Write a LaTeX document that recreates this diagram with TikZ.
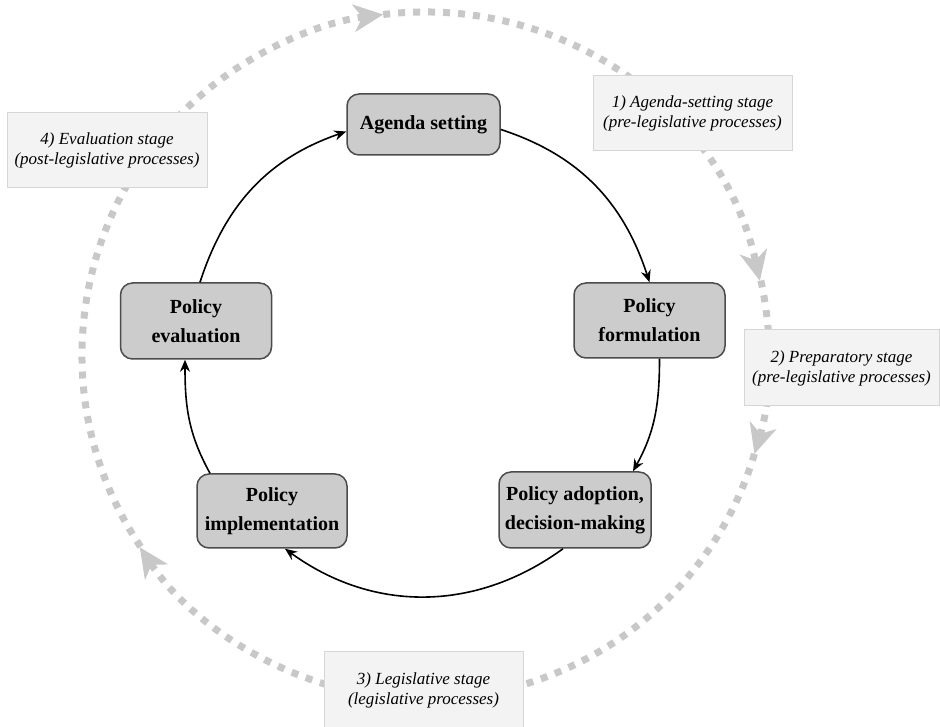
\documentclass[tikz,border=0pt]{standalone}
\usepackage{fontspec}
\setmainfont{Liberation Serif}
\usetikzlibrary{arrows.meta}

\definecolor{stagefill}{RGB}{204,204,204}
\definecolor{stageline}{RGB}{75,75,75}
\definecolor{notefill}{RGB}{243,243,243}
\definecolor{noteline}{RGB}{214,214,214}
\definecolor{loopgray}{RGB}{200,200,200}

\begin{document}
\begin{tikzpicture}[x=1pt,y=1pt,
  stage/.style={draw=stageline,fill=stagefill,line width=1.5pt,rounded corners=12pt,minimum width=151pt,minimum height=75pt,align=center,inner sep=2pt,font=\fontsize{20}{29}\selectfont\bfseries},
  note/.style={draw=noteline,fill=notefill,line width=1pt,minimum width=199pt,minimum height=75pt,align=center,inner sep=2pt,font=\fontsize{17}{20}\selectfont\itshape},
  flow/.style={-{Stealth[length=12pt,width=10pt]},line width=1.6pt},
  loop/.style={draw=loopgray,line width=7pt,dash pattern=on 7pt off 8pt,-{Stealth[length=30pt,width=28pt,inset=9pt,line width=1pt]}}]
\useasboundingbox (0,0) rectangle (940,727);

%Centre of both cycles
\coordinate (hub) at (425,372);

%Arcs: outer dotted loop
\draw[loop] (hub) ++(214:343) arc[start angle=214,end angle=97,radius=343];
\draw[loop] (hub) ++(97:343) arc[start angle=97,end angle=12.5,radius=343];
\draw[loop] (hub) ++(12.5:344) arc[start angle=12.5,end angle=-16.7,radius=344];
\draw[loop] (hub) ++(-16.7:344) arc[start angle=-16.7,end angle=-146,radius=344];

% Text Node
\node (setting) [note] at (692.5,613.5) {1) Agenda-setting stage\\(pre-legislative processes)};
% Text Node
\node (prep) [note,minimum width=195pt,minimum height=76pt] at (841.5,359) {2) Preparatory stage\\(pre-legislative processes)};
% Text Node
\node (legis) [note,minimum height=77pt] at (423.5,36.5) {3) Legislative stage\\(legislative processes)};
% Text Node
\node (evalstage) [note,minimum width=200pt] at (107,576.5) {4) Evaluation stage\\(post-legislative processes)};

%Shape: Rounded Rect
\node (agenda) [stage,minimum width=153pt,minimum height=61pt] at (423.5,602.5) {Agenda setting};
%Shape: Rounded Rect
\node (formul) [stage] at (649.5,406.5) {Policy\\formulation};
%Shape: Rounded Rect
\node (adopt) [stage,minimum width=152pt,minimum height=76pt] at (575,217) {Policy adoption,\\decision-making};
%Shape: Rounded Rect
\node (implem) [stage,minimum width=150pt,minimum height=74pt] at (272,216) {Policy\\implementation};
%Shape: Rounded Rect
\node (evalu) [stage,minimum height=76pt] at (196,406) {Policy\\evaluation};

%Curves: inner cycle
\draw[flow] ([yshift=-5]agenda.east) to[out=-18,in=108] (formul.north);
\draw[flow] ([xshift=10]formul.south) to[out=-90,in=61] ([xshift=58]adopt.north);
\draw[flow] ([xshift=-12]adopt.south) to[out=216,in=-36] ([xshift=13]implem.south);
\draw[flow] ([xshift=-62]implem.north) to[out=119,in=-90] ([xshift=-11]evalu.south);
\draw[flow] ([xshift=4]evalu.north) to[out=72,in=199] ([yshift=-7]agenda.west);

\end{tikzpicture}
\end{document}
